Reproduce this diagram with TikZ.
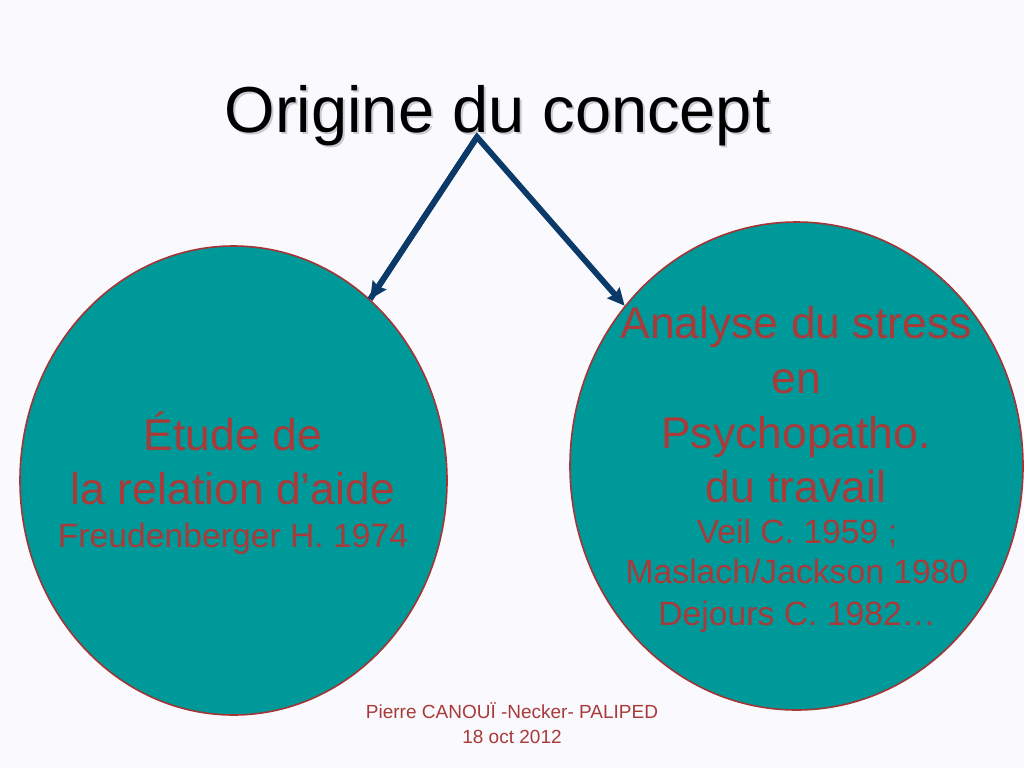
\documentclass[tikz,border=0pt]{standalone}
\usepackage{fontspec}
\setmainfont{Liberation Sans}
\usetikzlibrary{shapes.geometric,arrows.meta}
\definecolor{bg}{HTML}{F9F9FE}
\definecolor{teal}{HTML}{009999}
\definecolor{rim}{HTML}{A23535}
\definecolor{txt}{HTML}{A83A3A}
\definecolor{arr}{HTML}{0B3A68}
\definecolor{shad}{HTML}{CACAD0}
\newcommand{\shadowed}[1]{\makebox[0pt][l]{\hspace{2pt}\raisebox{-2.5pt}{\textcolor{shad}{#1}}}#1}
\tikzset{
  bubble/.style={ellipse, draw=rim, line width=1.6pt, fill=teal, inner sep=0pt},
  big/.style={anchor=base, text=txt, inner sep=0pt, font=\fontsize{44.5}{50}\selectfont},
  small/.style={anchor=base, text=txt, inner sep=0pt, font=\fontsize{33.7}{38}\selectfont},
  foot/.style={anchor=base, text=txt, inner sep=0pt, font=\fontsize{19}{22}\selectfont},
  ttl/.style={anchor=base, inner sep=0pt, text=black, font=\fontsize{65}{72}\selectfont},
  link/.style={draw=arr, line width=5.8pt, -{Stealth[length=17pt,width=16pt,inset=2pt]}}
}
\begin{document}
\begin{tikzpicture}[x=1pt,y=-1pt]
\useasboundingbox (0,0) rectangle (1024,768);
\fill[bg] (0,0) rectangle (1024,768);
% title with shadow
\node[ttl] (title) at (497.5,132) {\shadowed{Origine du concept}};
% ellipses
\node[bubble, minimum width=427pt, minimum height=469pt] (L) at (233.5,480.5) {};
\node[bubble, minimum width=453pt, minimum height=488pt] (R) at (796.5,466) {};
% left text
\node[big] (l1) at (233,450) {Étude de};
\node[big] (l2) at (233,504) {la relation d’aide};
\node[small] (l3) at (233,547) {Freudenberger H. 1974};
% right text
\node[big] (r1) at (796,338) {Analyse du stress};
\node[big] (r2) at (796,393) {en};
\node[big] (r3) at (796,448) {Psychopatho.};
\node[big] (r4) at (796,502) {du travail};
\node[small] (r5) at (797,543) {Veil C. 1959 ;};
\node[small] (r6) at (797,583) {Maslach/Jackson 1980};
\node[small] (r7) at (797,625) {Dejours C. 1982…};
% footer
\node[foot] (f1) at (512,718) {Pierre CANOUÏ -Necker- PALIPED};
\node[foot] (f2) at (512,743) {18 oct 2012};
% arrows
\coordinate (apex) at (477,137);
\draw[link, line join=miter] (L.53.8) -- (apex) -- (R.137.7);
\draw[link] (apex) -- (L.53.8);
\end{tikzpicture}
\end{document}
